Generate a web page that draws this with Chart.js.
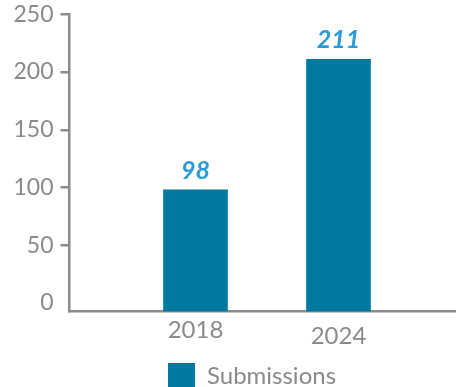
<!DOCTYPE html>
<html>
<head>
<meta charset="utf-8">
<script src="https://cdn.jsdelivr.net/npm/chart.js@4/dist/chart.umd.min.js"></script>
<style>
  html, body { margin: 0; padding: 0; background: #ffffff; overflow: hidden; }
  #wrap { width: 456px; height: 387px; overflow: hidden; }
</style>
</head>
<body>
<div id="wrap"><canvas id="c" width="456" height="399"></canvas></div>
<script>
// Submissions per year
const categories = ['2018', '2024'];
const submissions = [98, 211];
const yTicks = [0, 50, 100, 150, 200, 250];
const seriesName = 'Submissions';

const GRAY = '#8b8b8b';
const TEXT = '#8a8a8a';
const BAR = '#0079a0';
const VALUE = '#2a9bd8';
const FONT = 'Lato, "Open Sans", sans-serif';
const Y_MIN = -7.3;

// Bar values written above each bar
const valueLabels = {
  id: 'valueLabels',
  afterDatasetsDraw(chart) {
    const ctx = chart.ctx;
    const meta = chart.getDatasetMeta(0);
    ctx.save();
    ctx.font = 'italic bold 25px ' + FONT;
    ctx.fillStyle = VALUE;
    ctx.textAlign = 'center';
    ctx.textBaseline = 'alphabetic';
    meta.data.forEach((bar, i) => {
      ctx.fillText(String(submissions[i]), bar.x, bar.y - 11);
    });
    ctx.restore();
  }
};

// Legend sits a little right of the canvas centre
const legendShift = {
  id: 'legendShift',
  afterLayout(chart) {
    const lg = chart.legend;
    if (lg) { lg.left += 48; }
  }
};

new Chart(document.getElementById('c'), {
  type: 'bar',
  data: {
    datasets: [{
      label: seriesName,
      data: categories.map((c, i) => ({ x: i, y: submissions[i] })),
      backgroundColor: BAR,
      borderWidth: 0,
      barThickness: 64,
      base: Y_MIN
    }]
  },
  options: {
    responsive: false,
    animation: false,
    layout: { padding: { top: 14.3, right: 0, left: 0, bottom: 0 } },
    plugins: {
      tooltip: { enabled: false },
      legend: {
        position: 'bottom',
        labels: {
          color: TEXT,
          font: { family: FONT, size: 24 },
          boxWidth: 27,
          boxHeight: 26,
          padding: 2.7
        }
      }
    },
    scales: {
      x: {
        type: 'linear',
        offset: false,
        min: -0.881,
        max: 1.8217,
        afterBuildTicks(scale) { scale.ticks = categories.map((c, i) => ({ value: i })); },
        ticks: {
          color: TEXT,
          padding: 4,
          font: (ctx) => ({ family: FONT, size: 24, lineHeight: ctx.index === 1 ? 1.7 : 1.2 }),
          callback: (v) => categories[v]
        },
        grid: { display: false, drawTicks: false, offset: false },
        border: { display: true, color: GRAY, width: 2.5 }
      },
      y: {
        min: Y_MIN,
        max: 250,
        afterBuildTicks(scale) { scale.ticks = yTicks.map(v => ({ value: v })); },
        afterFit(scale) {
          scale.width = 69.5;
          scale.paddingTop = 0;
          scale.paddingBottom = 0;
        },
        ticks: {
          color: TEXT,
          padding: 7,
          font: { family: FONT, size: 23 }
        },
        grid: {
          drawOnChartArea: false,
          drawTicks: true,
          tickLength: 9,
          lineWidth: 2.5,
          color: (ctx) => (ctx.tick && ctx.tick.value === 0) ? 'rgba(0,0,0,0)' : GRAY
        },
        border: { display: true, color: GRAY, width: 2.5 }
      }
    }
  },
  plugins: [valueLabels, legendShift]
});
</script>
</body>
</html>
